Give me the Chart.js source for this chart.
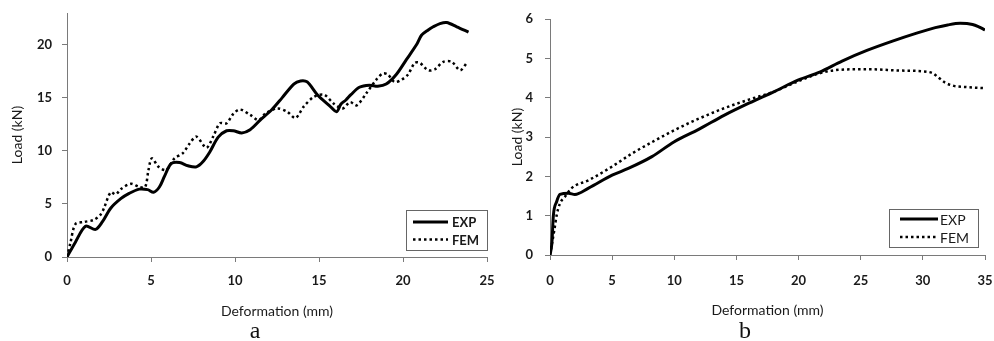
<!DOCTYPE html>
<html>
<head>
<meta charset="utf-8">
<script src="https://cdn.jsdelivr.net/npm/chart.js@4.4.0/dist/chart.umd.min.js"></script>
<style>
  html, body { margin: 0; padding: 0; background: #fff; }
  #wrap { position: relative; width: 994px; height: 341px; overflow: hidden; }
  .pane { position: absolute; top: 0; width: 497px; height: 341px; }
  .cap { position: absolute; font-family: 'Liberation Serif', serif; font-size: 24px; line-height: 24px; color: #111; transform: translateX(-50%); }
</style>
</head>
<body>
<div id="wrap">
  <div class="pane" style="left:0"><canvas id="chartA" width="497" height="341"></canvas></div>
  <div class="pane" style="left:497px"><canvas id="chartB" width="497" height="341"></canvas></div>
  <div class="cap" style="left:255px; top:318px">a</div>
  <div class="cap" style="left:745px; top:318px">b</div>
</div>
<script>
'use strict';

/* ---- chart a : load vs deformation ---- */
const aExpX = [0, 0.5, 1.1, 1.7, 2.1, 2.6, 3.2, 3.7, 4.3, 4.8, 5.15, 5.5, 5.8, 6.2, 6.7, 7.2, 7.7, 8.1, 8.5, 9.0, 9.5, 9.9, 10.4, 10.9, 11.5, 12.2, 12.8, 13.5, 13.9, 14.3, 14.9, 15.6, 16.05, 16.3, 16.6, 16.9, 17.4, 18.0, 18.5, 19.0, 19.6, 20.2, 20.8, 21.1, 21.5, 21.8, 22.2, 22.6, 23.2, 23.9];
const aExpY = [0, 1.4, 2.9, 2.6, 3.3, 4.6, 5.5, 6.0, 6.4, 6.35, 6.1, 6.6, 7.6, 8.8, 8.9, 8.6, 8.5, 9.0, 9.9, 11.3, 11.9, 11.9, 11.7, 12.0, 12.9, 13.9, 15.0, 16.3, 16.6, 16.5, 15.3, 14.3, 13.7, 14.4, 14.8, 15.3, 16.0, 16.2, 16.1, 16.3, 17.2, 18.6, 20.0, 20.9, 21.4, 21.7, 22.0, 22.1, 21.7, 21.2];
const aFemX = [0, 0.2, 0.5, 1.0, 1.6, 2.0, 2.2, 2.6, 2.9, 3.2, 3.8, 4.3, 4.65, 4.85, 5.05, 5.45, 5.9, 6.4, 6.9, 7.3, 7.7, 8.3, 8.7, 9.1, 9.5, 9.9, 10.3, 10.9, 11.4, 11.8, 12.5, 13.1, 13.6, 14.1, 14.7, 15.3, 15.85, 16.4, 16.85, 17.25, 17.8, 18.4, 18.8, 19.1, 19.5, 19.9, 20.3, 20.7, 21.0, 21.5, 21.9, 22.4, 22.9, 23.4, 23.8];
const aFemY = [0, 1.3, 3.1, 3.3, 3.5, 4.0, 4.6, 6.1, 5.9, 6.4, 6.9, 6.6, 6.6, 8.2, 9.3, 8.5, 8.2, 9.3, 9.8, 10.7, 11.35, 10.3, 11.35, 12.6, 12.6, 13.5, 13.9, 13.4, 12.9, 13.5, 14.0, 13.7, 13.1, 14.2, 15.1, 15.3, 14.5, 14.0, 14.6, 14.3, 15.4, 16.7, 17.3, 17.2, 16.5, 16.7, 17.2, 18.3, 18.3, 17.6, 17.7, 18.4, 18.4, 17.6, 18.3];

/* ---- chart b ---- */
const bExpX = [0, 0.15, 0.27, 0.54, 0.8, 1.5, 2.0, 3.1, 5.0, 6.3, 8.2, 10.0, 12.0, 14.0, 16.0, 18.0, 20.0, 21.7, 23.5, 25.5, 27.5, 29.5, 31.0, 32.0, 33.0, 34.0, 34.5, 35.0];
const bExpY = [0, 0.3, 1.0, 1.36, 1.54, 1.57, 1.54, 1.7, 2.03, 2.2, 2.5, 2.88, 3.2, 3.55, 3.86, 4.15, 4.45, 4.65, 4.93, 5.2, 5.43, 5.64, 5.78, 5.85, 5.89, 5.86, 5.8, 5.72];
const bFemX = [0, 0.35, 0.54, 0.8, 1.2, 1.74, 3.1, 5.0, 6.6, 8.5, 10.3, 12.0, 14.0, 16.0, 18.0, 20.0, 21.7, 23.0, 24.5, 26.0, 28.0, 30.0, 30.8, 31.3, 31.8, 32.5, 33.5, 35.0];
const bFemY = [0, 0.64, 1.02, 1.31, 1.48, 1.7, 1.9, 2.25, 2.58, 2.92, 3.22, 3.47, 3.73, 3.95, 4.15, 4.42, 4.62, 4.7, 4.72, 4.72, 4.69, 4.67, 4.62, 4.5, 4.38, 4.3, 4.27, 4.24];

const seriesLabels = ['EXP', 'FEM'];
const xTitle = 'Deformation (mm)';
const yTitle = 'Load (kN)';

const FONT = 'Lato, sans-serif';
const AXIS_COLOR = '#7a7a7a';
const TEXT_COLOR = '#1a1a1a';

const pts = (xs, ys) => xs.map((x, i) => ({ x, y: ys[i] }));

// legend with a border, drawn inside the plot corner
const boxLegend = {
  id: 'boxLegend',
  afterDraw(chart, args, o) {
    const { ctx, chartArea } = chart;
    const x0 = Math.round(chartArea.right - o.offsetRight - o.width);
    const y0 = Math.round(chartArea.bottom - o.offsetBottom - o.height);
    ctx.save();
    ctx.fillStyle = '#fff';
    ctx.fillRect(x0, y0, o.width, o.height);
    ctx.strokeStyle = '#666';
    ctx.lineWidth = 1;
    ctx.strokeRect(x0 + 0.5, y0 + 0.5, o.width, o.height);
    chart.data.datasets.forEach((ds, i) => {
      const y = y0 + o.rowTop + i * o.rowGap;
      ctx.beginPath();
      ctx.setLineDash(ds.borderDash || []);
      ctx.lineWidth = ds.borderWidth;
      ctx.strokeStyle = ds.borderColor;
      ctx.moveTo(x0 + o.lineStart, y);
      ctx.lineTo(x0 + o.lineStart + o.lineLen, y);
      ctx.stroke();
      ctx.setLineDash([]);
      ctx.fillStyle = TEXT_COLOR;
      ctx.font = `${o.weight} ${o.size}px ${FONT}`;
      ctx.textBaseline = 'middle';
      ctx.fillText(ds.label, x0 + o.textStart, y + 1);
    });
    ctx.restore();
  },
};

function datasets(expX, expY, femX, femY, smooth) {
  return [
    {
      label: seriesLabels[0],
      data: pts(expX, expY),
      borderColor: '#000',
      borderWidth: 3,
      pointRadius: 0,
      ...smooth,
    },
    {
      label: seriesLabels[1],
      data: pts(femX, femY),
      borderColor: '#000',
      borderWidth: 2.5,
      borderDash: [2.5, 3],
      pointRadius: 0,
      ...smooth,
    },
  ];
}

function scales(cfg) {
  const grid = { display: true, drawOnChartArea: false, drawTicks: true, tickLength: 5, tickColor: AXIS_COLOR };
  const border = { display: true, color: AXIS_COLOR, width: 1 };
  const titleFont = { family: FONT, size: 14 };
  const tickFont = { family: FONT, size: 13, weight: 'bold' };
  return {
    x: {
      type: 'linear',
      min: 0,
      max: cfg.xMax,
      grid, border,
      ticks: { stepSize: 5, color: TEXT_COLOR, font: tickFont, padding: cfg.xPad, maxRotation: 0 },
      title: { display: true, text: xTitle, color: TEXT_COLOR, font: titleFont, padding: 0 },
      afterFit: (s) => { s.height = cfg.xHeight; s.paddingLeft = 0; s.paddingRight = 0; },
    },
    y: {
      min: 0,
      max: cfg.yMax,
      grid, border,
      ticks: { stepSize: cfg.yStep, color: TEXT_COLOR, font: tickFont, padding: cfg.yPad },
      title: { display: true, text: yTitle, color: TEXT_COLOR, font: titleFont, padding: 0 },
      afterBuildTicks: (s) => { s.ticks = s.ticks.filter((t) => t.value % cfg.yStep === 0); },
      afterFit: (s) => { s.width = cfg.yWidth; s.paddingTop = 0; s.paddingBottom = 0; },
    },
  };
}

function makeChart(id, data, cfg, legend) {
  return new Chart(document.getElementById(id), {
    type: 'line',
    data: { datasets: data },
    options: {
      responsive: false,
      animation: false,
      layout: { padding: cfg.padding },
      plugins: { legend: { display: false }, tooltip: { enabled: false }, boxLegend: legend },
      scales: scales(cfg),
    },
    plugins: [boxLegend],
  });
}

makeChart('chartA', datasets(aExpX, aExpY, aFemX, aFemY, { tension: 0.3 }), {
  xMax: 25, yMax: 23, yStep: 5,
  xPad: 11, yPad: 10, xHeight: 63, yWidth: 58,
  padding: { left: 9, right: 10, top: 13, bottom: 21 },
}, {
  width: 81, height: 40, offsetRight: 0, offsetBottom: 7,
  rowTop: 12, rowGap: 17.5, lineStart: 7, lineLen: 35, textStart: 46,
  size: 13, weight: 'bold',
});

makeChart('chartB', datasets(bExpX, bExpY, bFemX, bFemY, { cubicInterpolationMode: 'monotone' }), {
  xMax: 35, yMax: 6, yStep: 1,
  xPad: 13, yPad: 12, xHeight: 64, yWidth: 41,
  padding: { left: 12, right: 9, top: 19, bottom: 22 },
}, {
  width: 89, height: 38, offsetRight: 7, offsetBottom: 8,
  rowTop: 10, rowGap: 18, lineStart: 11, lineLen: 38, textStart: 51,
  size: 14, weight: 'normal',
});
</script>
</body>
</html>
